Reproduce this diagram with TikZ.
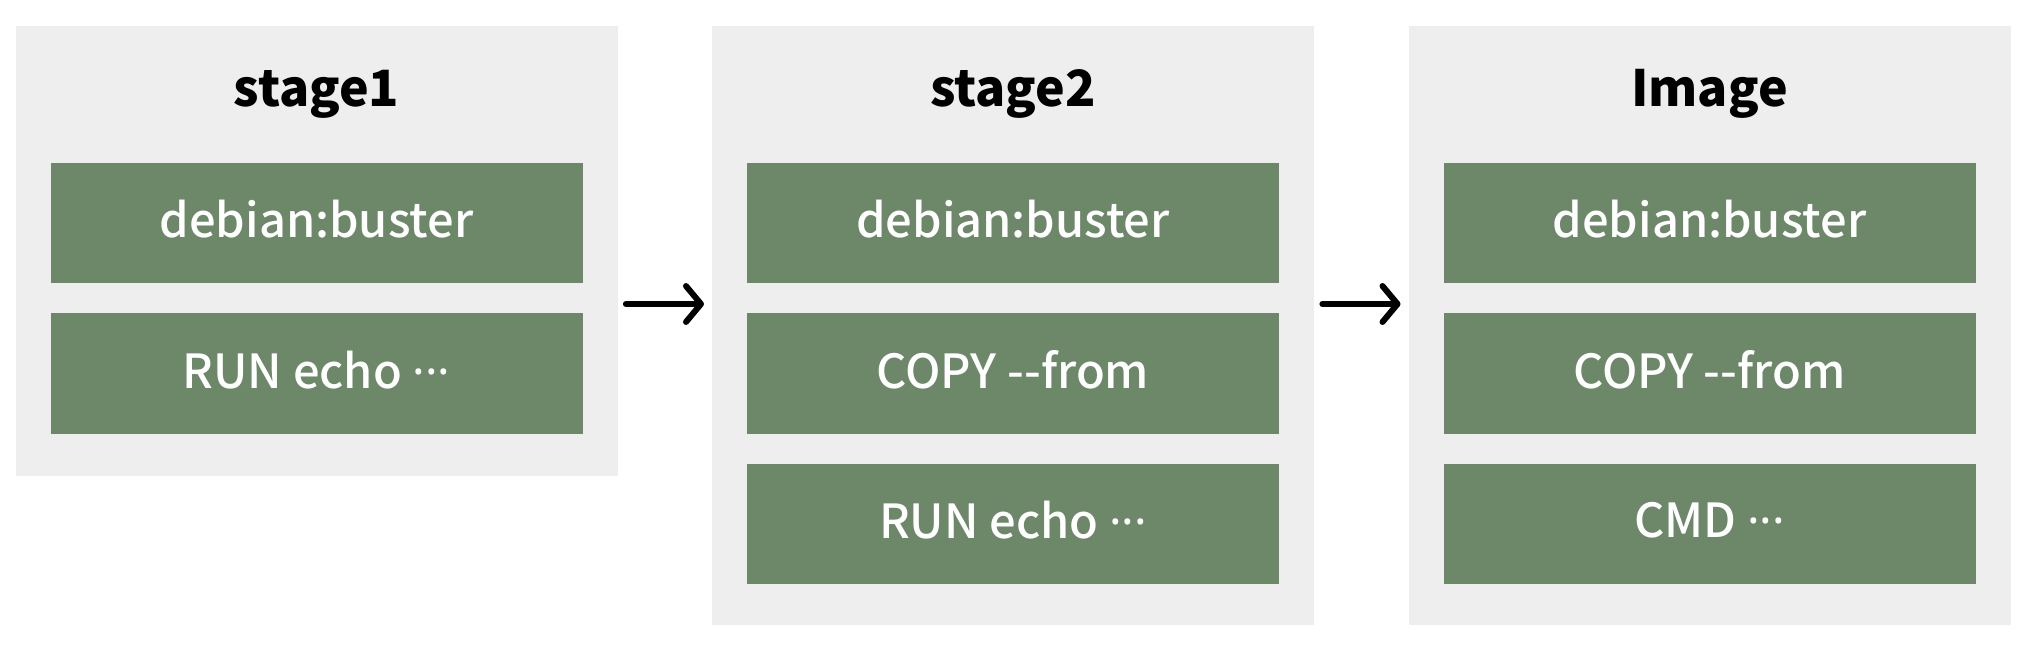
\documentclass[tikz,border=0pt]{standalone}
\usepackage{fontspec}
\setmainfont{Noto Sans CJK KR}
\newfontfamily\layerfont{Noto Sans CJK KR}[UprightFont=* Medium]
\newfontfamily\dotfont{Noto Sans}
\usepackage{tikz}
\usetikzlibrary{positioning,arrows.meta}
\definecolor{stageback}{RGB}{238,238,238}
\definecolor{layergreen}{RGB}{108,136,105}
\newcommand{\middots}{{\dotfont\bfseries ···}}

\tikzset{
  panel/.style={fill=stageback,anchor=north west,minimum width=602pt,inner sep=0pt},
  title/.style={font=\fontsize{50}{56}\selectfont\bfseries,text=black},
  layer/.style={fill=layergreen,minimum width=532pt,minimum height=120.5pt,inner sep=0pt,
    text depth=8pt,text=white,font=\layerfont\fontsize{47}{52}\selectfont},
  flow/.style={line width=6pt,line cap=round,-{Straight Barb[round,length=15pt,width=36pt,line width=6pt]}}
}

\begin{document}
\begin{tikzpicture}[x=1pt,y=-1pt]
\useasboundingbox[fill=white] (0,0) rectangle (2030,652);

% stage1
\node[panel,minimum height=450pt] (stageA) at (15.5,26) {};
\node[title] (titleA) at (316.5,94) {stage1};
\node[layer] (debA) at (316.5,223) {debian:buster};
\node[layer,below=29.5pt of debA] (runA) {RUN echo \middots};

% stage2
\node[panel,minimum height=599pt] (stageB) at (712,26) {};
\node[title] (titleB) at (1013,94) {stage2};
\node[layer] (debB) at (1013,223) {debian:buster};
\node[layer,below=29.5pt of debB] (copyB) {COPY -{}-from};
\node[layer,below=29.5pt of copyB] (runB) {RUN echo \middots};

% final image
\node[panel,minimum height=599pt] (stageC) at (1408.5,26) {};
\node[title] (titleC) at (1709.5,94) {Image};
\node[layer] (debC) at (1709.5,223) {debian:buster};
\node[layer,below=29.5pt of debC] (copyC) {COPY -{}-from};
\node[layer,below=29.5pt of copyC] (cmdC) {CMD \middots};

% arrows
\coordinate (flowline) at (0,304);
\draw[flow] ([xshift=8pt]stageA.east |- flowline) -- ([xshift=-8pt]stageB.west |- flowline);
\draw[flow] ([xshift=8pt]stageB.east |- flowline) -- ([xshift=-8pt]stageC.west |- flowline);
\end{tikzpicture}
\end{document}
